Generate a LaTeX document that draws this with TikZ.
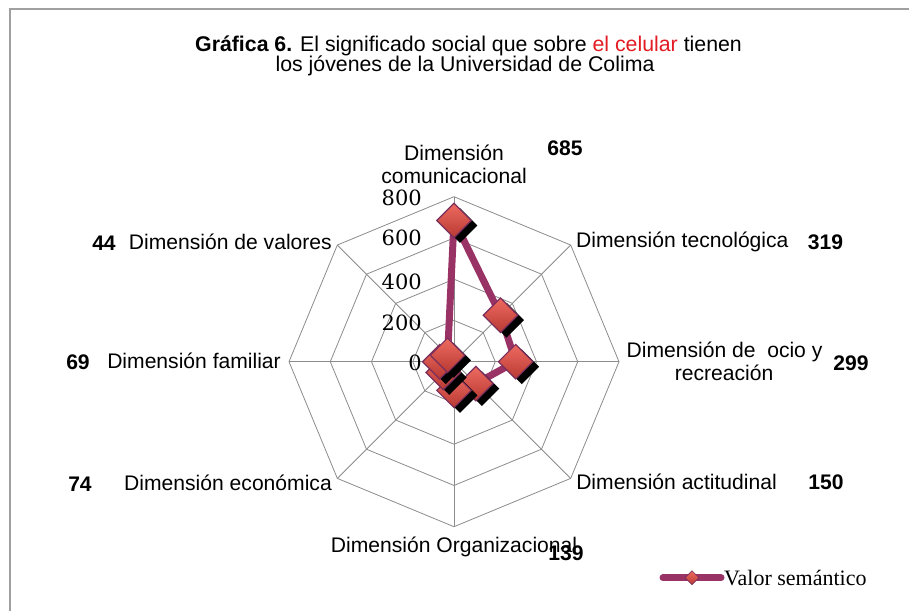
\documentclass[tikz,border=0pt]{standalone}
\usepackage{fontspec}
\setmainfont{Liberation Sans}
\newfontfamily\numfont{DejaVu Serif}
\newfontfamily\legfont{Liberation Serif}
\usetikzlibrary{shapes.geometric,calc}
\definecolor{serie}{HTML}{993366}
\definecolor{mkdark}{HTML}{B83A33}
\definecolor{mklight}{HTML}{EE6A60}
\definecolor{mkedge}{HTML}{7A2E5C}
\definecolor{gridc}{HTML}{8C8C8C}
\definecolor{framec}{HTML}{A0A0A0}
\definecolor{titlered}{HTML}{E31B23}
\begin{document}
\begin{tikzpicture}[x=1pt,y=-1pt,
  lab/.style={font=\fontsize{21.1}{23}\selectfont, inner sep=0pt},
  val/.style={font=\fontsize{21.1}{23}\selectfont\bfseries, inner sep=0pt, anchor=base},
  ttl/.style={font=\fontsize{21.3}{22}\selectfont, inner sep=0pt, anchor=base},
  axisnum/.style={font=\numfont\fontsize{21}{24}\selectfont, inner sep=0pt, anchor=base east},
  mkr/.style={diamond, minimum size=35pt, inner sep=0pt, draw=mkedge, line width=1.2pt, top color=mklight, bottom color=mkdark},
  shd/.style={diamond, minimum size=35pt, inner sep=0pt, fill=black},
  gridline/.style={draw=gridc, line width=0.8pt},
  serieline/.style={draw=serie, line width=7pt, line join=round},
]
\useasboundingbox (0,0) rectangle (909,611);
\fill[white] (0,0) rectangle (909,611);
% frame
\draw[framec, line width=1.5pt] (10,611) -- (10,9) -- (909,9);

% title
\node[ttl] (t1) at (468.5,51) {\textbf{Gráfica 6.} El significado social que sobre \textcolor{titlered}{el celular} tienen};
\node[ttl] (t2) at (465,71) {los jóvenes de la Universidad de Colima};

% radar grid
\coordinate (c) at (454,361.7);
\foreach \l in {1,...,4}{
  \draw[gridline] (454,{361.7-41.25*\l})
    \foreach \k in {1,...,7}{ -- ({454+41.25*\l*sin(45*\k)},{361.7-41.25*\l*cos(45*\k)}) } -- cycle;
}
\foreach \k in {0,...,7}{
  \coordinate (v\k) at ({454+165*sin(45*\k)},{361.7-165*cos(45*\k)});
  \draw[gridline] (c) -- (v\k);
}

% axis numbers
\node[axisnum] (a800) at (422,205.6) {800};
\node[axisnum] (a600) at (422,245.6) {600};
\node[axisnum] (a400) at (422,289.6) {400};
\node[axisnum] (a200) at (422,330.6) {200};
\node[axisnum] (a0) at (422,370.6) {0};

% data points
\foreach \v [count=\i from 0] in {685,319,299,150,139,74,69,44}{
  \coordinate (p\i) at ({454+(\v/800)*165*sin(45*\i)},{361.7-(\v/800)*165*cos(45*\i)});
}
\draw[serieline] (p0) -- (p1) -- (p2) -- (p3) -- (p4) -- (p5) -- (p6) -- (p7) -- cycle;
\foreach \i in {0,...,7}{
  \node[shd] (s\i) at ($(p\i)+(6,5)$) {};
  \node[mkr] (m\i) at (p\i) {};
}

% category labels
\node[lab, anchor=base] (lc1) at (454,160) {Dimensión};
\node[lab, anchor=base] (lc2) at (454,183) {comunicacional};
\node[lab, anchor=base west] (lt) at (576,247.7) {Dimensión tecnológica};
\node[lab, anchor=base] (lo1) at (724.5,357.7) {Dimensión de\ \ ocio y};
\node[lab, anchor=base] (lo2) at (724,380.7) {recreación};
\node[lab, anchor=base east] (la) at (777,489.7) {Dimensión actitudinal};
\node[lab, anchor=base] (lg) at (454,552.7) {Dimensión Organizacional};
\node[lab, anchor=base east] (le) at (332,490.7) {Dimensión económica};
\node[lab, anchor=base east] (lf) at (281,368.7) {Dimensión familiar};
\node[lab, anchor=base east] (lv) at (332,249.7) {Dimensión de valores};

% value labels
\node[val] (n685) at (565,155.7) {685};
\node[val] (n319) at (825.5,249.7) {319};
\node[val] (n299) at (851,370.7) {299};
\node[val] (n150) at (826,489.7) {150};
\node[val] (n139) at (566,560.5) {139};
\node[val] (n74) at (80,491.7) {74};
\node[val] (n69) at (78,369.7) {69};
\node[val] (n44) at (104,250.7) {44};

% legend
\coordinate (l1) at (663,577.7);
\coordinate (l2) at (721,577.7);
\draw[draw=serie, line width=7pt, line cap=round] (l1) -- (l2);
\node[mkr, minimum size=14pt, line width=0.6pt] (lm) at (692,577.7) {};
\node[font=\legfont\fontsize{22}{24}\selectfont, inner sep=0pt, anchor=base west] (lt2) at (724,585) {Valor semántico};
\end{tikzpicture}
\end{document}
